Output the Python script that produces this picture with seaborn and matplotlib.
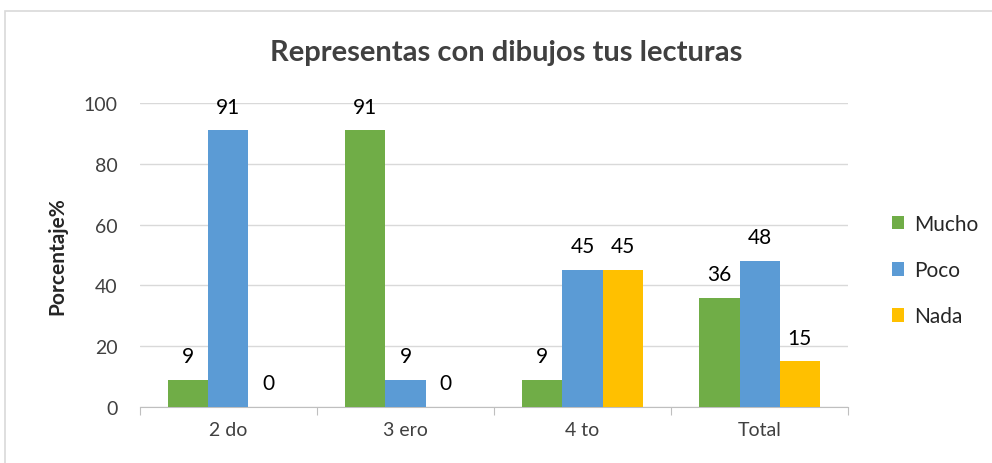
import pandas as pd
import matplotlib.pyplot as plt
import matplotlib.patches as mpatches
import seaborn as sns

grados = ["2 do", "3 ero", "4 to", "Total"]
niveles = ["Mucho", "Poco", "Nada"]
mucho = [9, 91, 9, 36]
poco = [91, 9, 45, 48]
nada = [0, 0, 45, 15]
colores = ["#70AD47", "#5B9BD5", "#FFC000"]

df = pd.DataFrame({
    "Grado": grados * 3,
    "Nivel": ["Mucho"] * 4 + ["Poco"] * 4 + ["Nada"] * 4,
    "Porcentaje": mucho + poco + nada,
})

sns.set_style("white")
plt.rcParams["font.family"] = ["Lato", "DejaVu Sans"]

fig = plt.figure(figsize=(9.92, 4.64), dpi=100)
ax = fig.add_axes([0.141, 0.1207, 0.714, 0.655])

# chart border like the original office chart
fig.patches.append(mpatches.Rectangle((5 / 992, -0.05), 1.1, (464 - 12) / 464 + 0.05,
                                      transform=fig.transFigure, fill=False,
                                      edgecolor="#D9D9D9", linewidth=1.2))

viz = sns.barplot(data=df, x="Grado", y="Porcentaje", hue="Nivel", hue_order=niveles,
                  palette=colores, width=0.68, saturation=1, linewidth=0, ax=ax, zorder=3)

for cont in viz.containers:
    viz.bar_label(cont, fmt="%g", padding=10, fontsize=15, color="#000000")

ax.set_ylim(0, 100)
ax.set_yticks(range(0, 101, 20))
ax.yaxis.grid(True, color="#D9D9D9", linewidth=1)
ax.set_axisbelow(True)
for s in ["left", "right", "top"]:
    ax.spines[s].set_visible(False)
ax.spines["bottom"].set_color("#BFBFBF")
ax.set_xlim(-0.5, 3.5)
ax.set_xticks([-0.5, 0.5, 1.5, 2.5, 3.5], minor=False)
ax.set_xticklabels([])
ax.set_xticks([0, 1, 2, 3], minor=True)
ax.set_xticklabels(grados, minor=True)
ax.tick_params(axis="x", which="major", length=6, color="#BFBFBF", direction="out", bottom=True)
ax.tick_params(axis="x", which="minor", length=0, labelsize=14, pad=10, labelcolor="#404040")
ax.tick_params(axis="y", length=0, labelsize=14, pad=16, labelcolor="#404040")

ax.set_xlabel("")
ax.set_ylabel("Porcentaje%", fontsize=15, fontweight="bold", labelpad=12)
fig.text(0.51, 0.885, "Representas con dibujos tus lecturas", ha="center", va="center",
         fontsize=21, fontweight="bold", color="#404040")

ax.legend(loc="center left", bbox_to_anchor=(1.035, 0.45), frameon=False, fontsize=15,
          handlelength=0.6, handleheight=0.6, labelspacing=1.25, handletextpad=0.5)

plt.savefig("out.png", dpi=100)
